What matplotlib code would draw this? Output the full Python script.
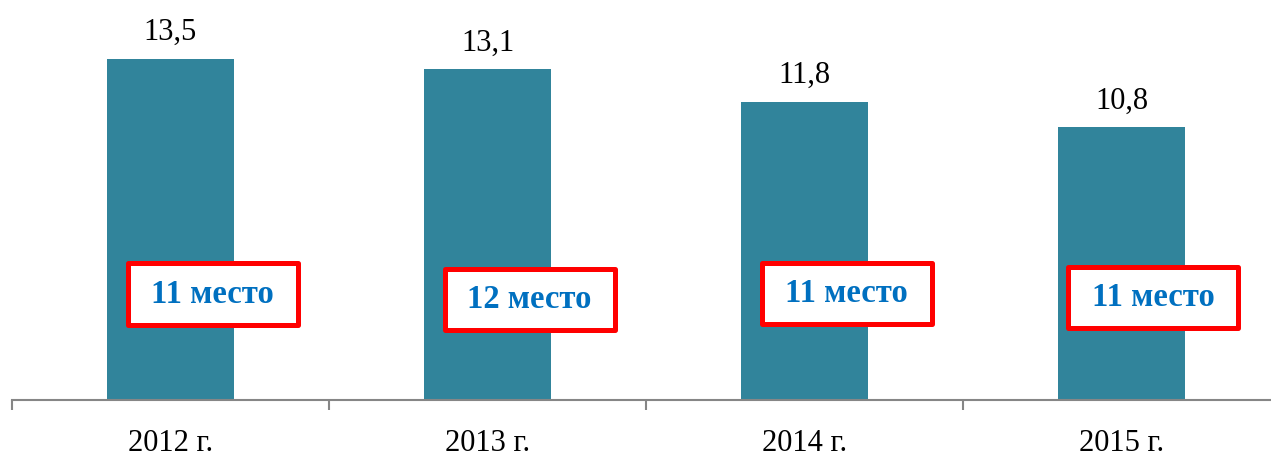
import matplotlib
matplotlib.use("Agg")
import matplotlib.pyplot as plt
from matplotlib.patches import Rectangle
from matplotlib.ticker import FixedLocator

categories = ["2012 г.", "2013 г.", "2014 г.", "2015 г."]
values = [13.5, 13.1, 11.8, 10.8]
value_labels = ["13,5", "13,1", "11,8", "10,8"]
places = ["11 место", "12 место", "11 место", "11 место"]

# annotation box layout (offsets from the category centre, in data units)
box_dx = [0.133, 0.133, 0.133, 0.10]
box_yc = [4.19, 3.99, 4.21, 4.07]
box_w = 0.537
box_h = 2.43

plt.rcParams['font.family'] = ['Liberation Serif', 'DejaVu Serif']

W, H = 1271, 459
fig = plt.figure(figsize=(W / 100, H / 100), dpi=100)
left = 12 / W
bottom = (H - 400) / H
ax = fig.add_axes([left, bottom, 1268 / W, 400 / H])

x = list(range(len(categories)))
bars = ax.bar(x, values, width=0.4, color="#31849B", zorder=2)

ax.set_xlim(-0.5, 3.5)
ax.set_ylim(0, 400 / 25.26)

for b, lab in zip(bars, value_labels):
    ax.annotate(lab, (b.get_x() + b.get_width() / 2, b.get_height()),
                xytext=(0, 13.5), textcoords="offset points",
                ha="center", va="baseline", fontsize=22, color="black")

for i, (p, dx, yc) in enumerate(zip(places, box_dx, box_yc)):
    xc = x[i] + dx
    ax.add_patch(Rectangle((xc - box_w / 2, yc - box_h / 2), box_w, box_h,
                           facecolor="white", edgecolor="#FF0000",
                           linewidth=3.6, zorder=3, joinstyle="round"))
    ax.text(xc, yc, p, ha="center", va="center", fontsize=23.5,
            fontweight="bold", color="#0070C0", zorder=4)

for s in ["top", "right", "left"]:
    ax.spines[s].set_visible(False)
ax.spines["bottom"].set_color("#868686")
ax.spines["bottom"].set_linewidth(1.5)
ax.set_yticks([])

ax.xaxis.set_major_locator(FixedLocator([-0.5, 0.5, 1.5, 2.5, 3.5]))
ax.xaxis.set_major_formatter(plt.NullFormatter())
ax.xaxis.set_minor_locator(FixedLocator(x))
ax.set_xticklabels(categories, minor=True)
ax.tick_params(axis="x", which="major", length=7, width=1.5, color="#868686", direction="out")
ax.tick_params(axis="x", which="minor", length=0, pad=21, labelsize=22)

fig.savefig("out.png", dpi=100)
